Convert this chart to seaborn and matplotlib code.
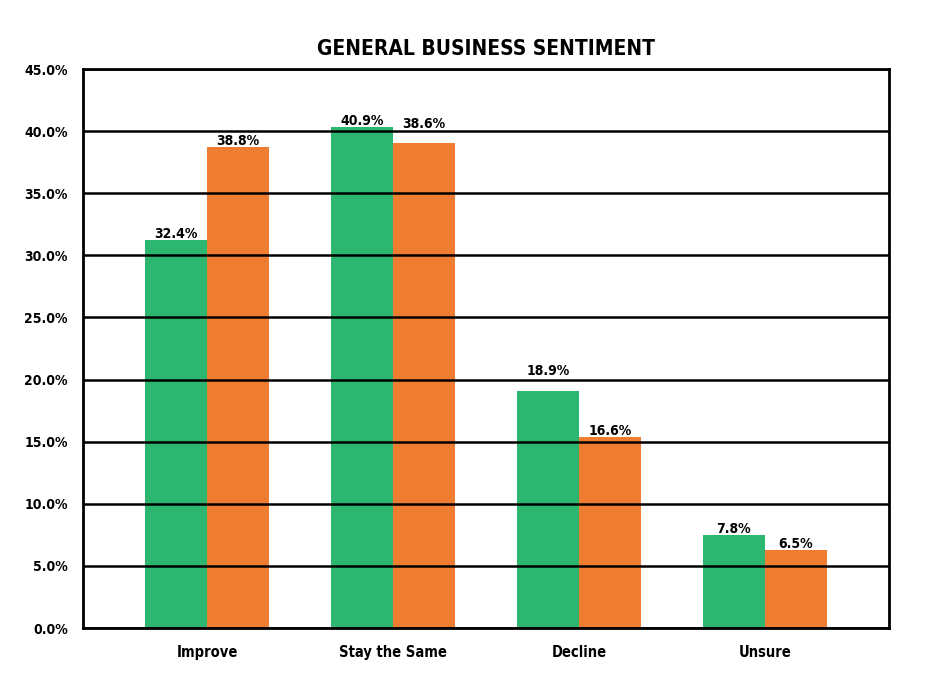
import pandas as pd
import matplotlib.pyplot as plt
import seaborn as sns
from matplotlib import font_manager
from matplotlib.ticker import FuncFormatter

# -------------------------------
# Data
# -------------------------------

categories = ["Improve", "Stay the Same", "Decline", "Unsure"]
series = ["Previous", "Current"]

# bar heights as drawn
previous_vals = [31.2, 40.35, 19.1, 7.5]
current_vals = [38.75, 39.05, 15.4, 6.3]

# printed labels
previous_labels = ["32.4%", "40.9%", "18.9%", "7.8%"]
current_labels = ["38.8%", "38.6%", "16.6%", "6.5%"]

colors = ["#2DB66F", "#EE7D32"]

df = pd.DataFrame({
    "Category": categories * 2,
    "Series": [series[0]] * 4 + [series[1]] * 4,
    "Value": previous_vals + current_vals,
})

# -------------------------------
# Pick a narrow font if there is one
# -------------------------------

fonts = font_manager.fontManager.ttflist
names = {f.name for f in fonts}
condensed = False
if "Liberation Sans Narrow" in names:
    family = ["Liberation Sans Narrow", "DejaVu Sans"]
elif any(f.name == "DejaVu Sans" and "condensed" in str(f.stretch) for f in fonts):
    family = ["DejaVu Sans"]
    condensed = True
else:
    family = ["Liberation Sans", "DejaVu Sans"]

# -------------------------------
# Plot
# -------------------------------

sns.set_style("white")
plt.rcParams["font.family"] = family
if condensed:
    plt.rcParams["font.stretch"] = "condensed"
plt.rcParams["text.color"] = "black"
plt.rcParams["xtick.color"] = "black"
plt.rcParams["ytick.color"] = "black"

fig = plt.figure(figsize=(9.41, 6.88), dpi=100)
ax = fig.add_axes([0.0882, 0.0872, 0.8565, 0.8125])

sns.barplot(data=df, x="Category", y="Value", hue="Series", order=categories,
            hue_order=series, palette=colors, width=0.667, saturation=1,
            ax=ax, legend=False)

for patch in ax.patches:
    patch.set_linewidth(0)

# labels sit just above the bars, two are lifted clear of a gridline
lift = [[0, 0, 9.5, 0], [0, 9, 0, 0]]
for cont, labs, pads in zip(ax.containers, [previous_labels, current_labels], lift):
    for bar, lab, p in zip(cont, labs, pads):
        ax.annotate(lab, (bar.get_x() + bar.get_width() / 2, bar.get_height()),
                    xytext=(0, p + 1.5), textcoords="offset points",
                    ha="center", va="baseline", fontsize=10, fontweight="bold",
                    color="black")

ax.set_xlim(-0.667, 3.667)
ax.set_ylim(0, 45)
ax.set_yticks(range(0, 46, 5))
ax.yaxis.set_major_formatter(FuncFormatter(lambda v, p: f"{v:.1f}%"))

ax.set_axisbelow(False)
ax.yaxis.grid(True, color="black", linewidth=1.8)
ax.xaxis.grid(False)

for s in ax.spines.values():
    s.set_visible(True)
    s.set_color("black")
    s.set_linewidth(2)

ax.tick_params(axis="both", length=0)
ax.tick_params(axis="y", pad=11)
ax.tick_params(axis="x", pad=12)
for t in ax.get_yticklabels():
    t.set_fontsize(10)
    t.set_fontweight("bold")
for t in ax.get_xticklabels():
    t.set_fontsize(10.5)
    t.set_fontweight("bold")

ax.set_xlabel("")
ax.set_ylabel("")
ax.set_title("GENERAL BUSINESS SENTIMENT", fontsize=15, fontweight="bold", pad=10)

plt.savefig("out.png", dpi=100)
plt.close()
